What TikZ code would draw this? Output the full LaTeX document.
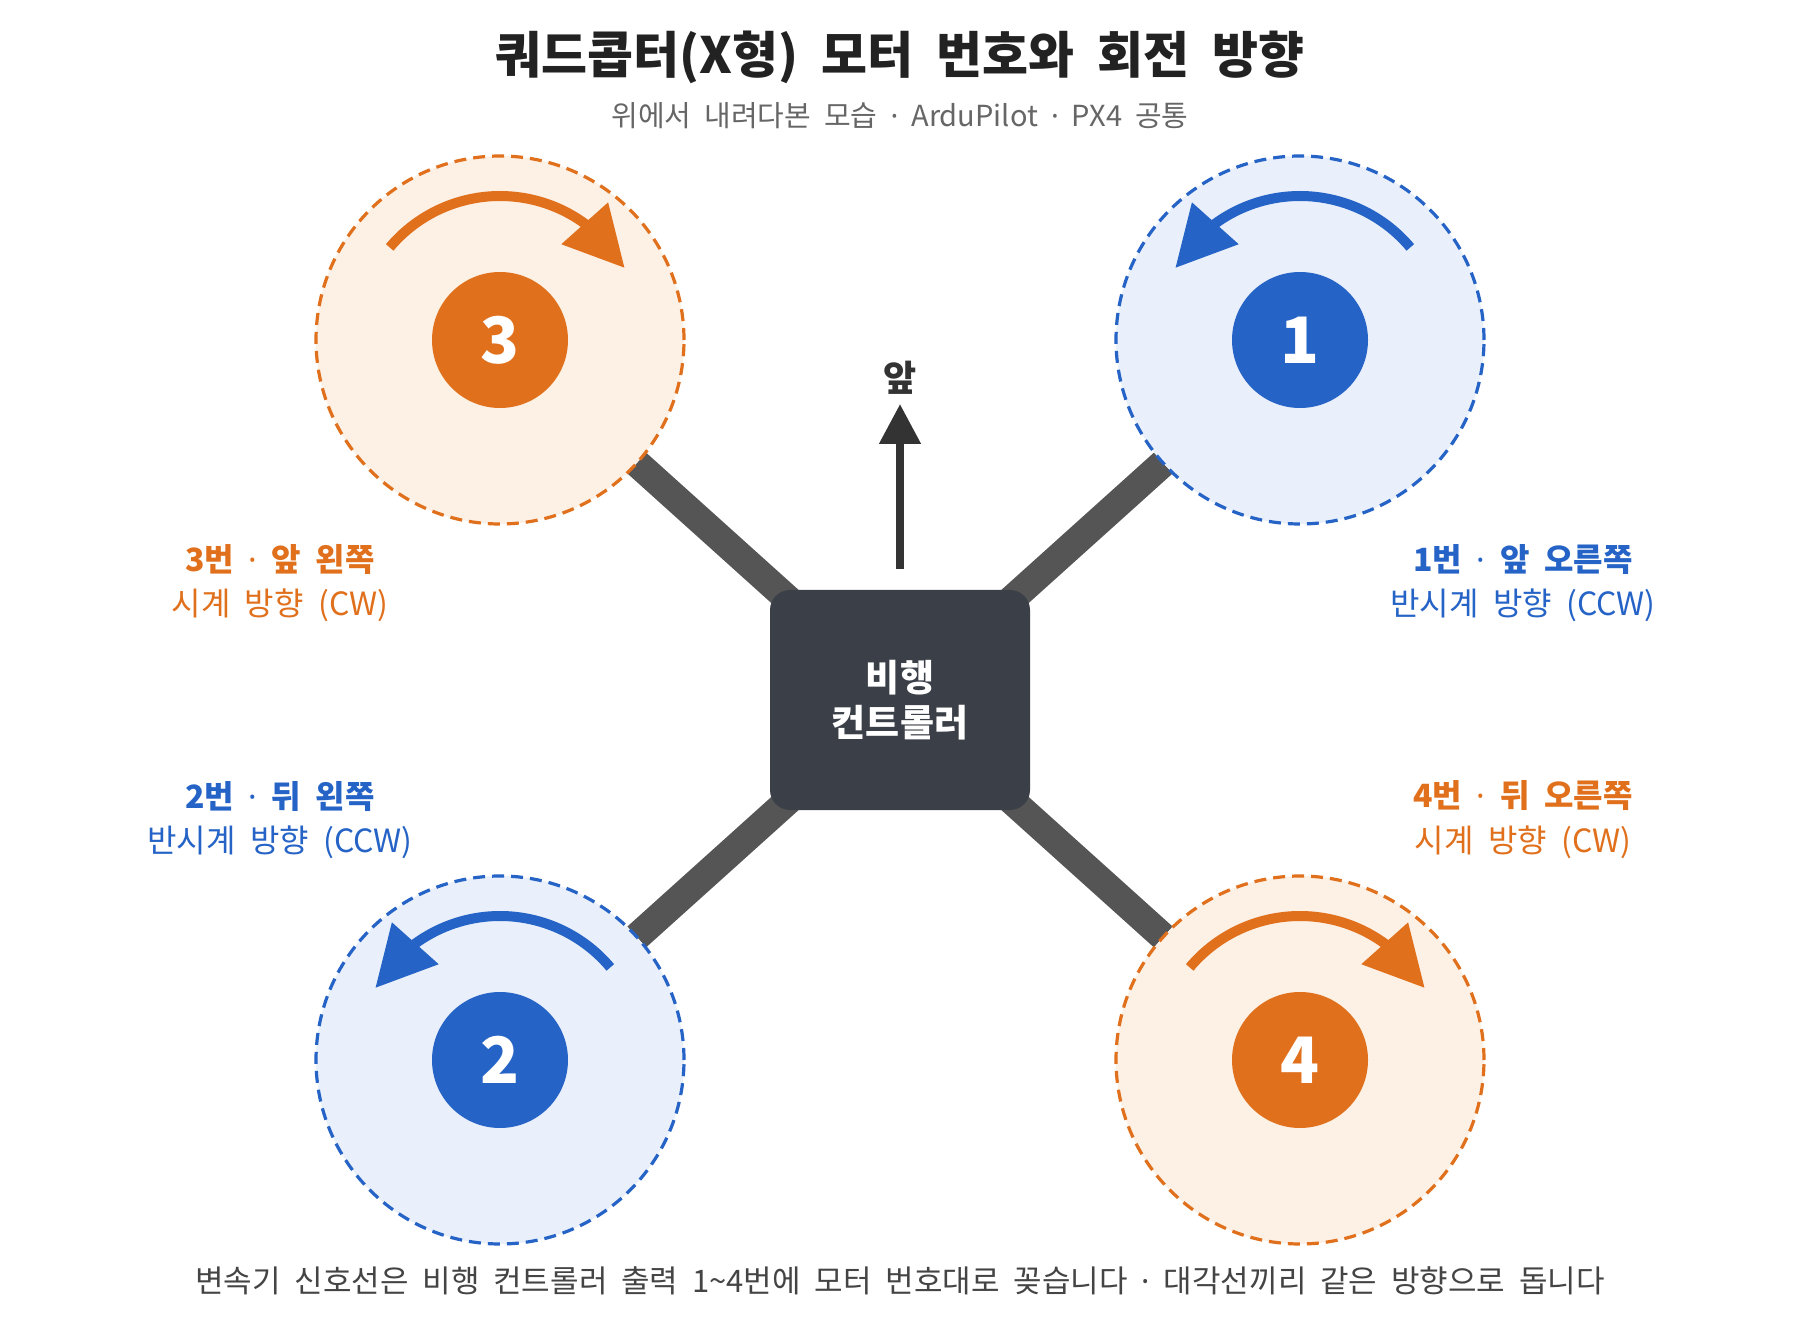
\documentclass[tikz,border=0pt]{standalone}
\usepackage{fontspec}
\setmainfont{Noto Sans CJK KR}[WordSpace=2]
\newfontfamily\dotfont{Noto Sans}
\newcommand\mdot{{\dotfont ·}}
\usetikzlibrary{arrows.meta,bending,calc}
\definecolor{orn}{HTML}{E0701C}
\definecolor{ornl}{HTML}{FDF0E5}
\definecolor{blu}{HTML}{2563C6}
\definecolor{blul}{HTML}{E9F0FB}
\definecolor{boxc}{HTML}{3B3F47}
\definecolor{armc}{HTML}{555555}
\definecolor{ink}{HTML}{333333}
\definecolor{ttl}{HTML}{222222}
\definecolor{subc}{HTML}{666666}
\definecolor{foot}{HTML}{444444}
\begin{document}
\begin{tikzpicture}[x=0.5pt,y=-0.5pt,
  rotor/.style={circle, minimum size=184pt, inner sep=0pt, draw=#1, fill=#1l, line width=1.6pt, dash pattern=on 6pt off 3.5pt},
  hub/.style={circle, minimum size=68pt, inner sep=0pt, fill=#1, text=white, font=\bfseries\fontsize{32}{36}\selectfont},
  spin/.style={draw=#1, line width=5pt, -{Triangle[length=30pt,width=30pt]}},
  arm/.style={draw=armc, line width=14pt},
  lab/.style={text=#1, font=\bfseries\fontsize{16}{19}\selectfont},
  sublab/.style={text=#1, font=\fontsize{16}{19}\selectfont}]
\useasboundingbox[fill=white] (0,0) rectangle (1800,1320);
\coordinate (ctr) at (900,700);
\coordinate (c1) at (1300,340);
\coordinate (c2) at (500,1060);
\coordinate (c3) at (500,340);
\coordinate (c4) at (1300,1060);
% arms
\foreach \c in {c1,c2,c3,c4}
  \draw[arm] (ctr) -- ($(\c)!92pt!(ctr)$);
% rotors
\node[rotor=blu] (r1) at (c1) {};
\node[rotor=blu] (r2) at (c2) {};
\node[rotor=orn] (r3) at (c3) {};
\node[rotor=orn] (r4) at (c4) {};
\node[hub=blu] (h1) at (c1) {1};
\node[hub=blu] (h2) at (c2) {2};
\node[hub=orn] (h3) at (c3) {3};
\node[hub=orn] (h4) at (c4) {4};
% spin arrows
\draw[spin=blu] ([shift={(320:144)}]c1) arc[start angle=320,end angle=210,radius=144];
\draw[spin=blu] ([shift={(320:144)}]c2) arc[start angle=320,end angle=210,radius=144];
\draw[spin=orn] ([shift={(220:144)}]c3) arc[start angle=220,end angle=330,radius=144];
\draw[spin=orn] ([shift={(220:144)}]c4) arc[start angle=220,end angle=330,radius=144];
% flight controller
\node[fill=boxc, rounded corners=10pt, minimum width=130pt, minimum height=110pt, text=white, font=\bfseries\fontsize{18.5}{22.5}\selectfont, align=center] (fc) at (ctr) {비행\\컨트롤러};
% front arrow
\coordinate (ftail) at (900,569);
\coordinate (fhead) at (900,404);
\draw[draw=ink, line width=4pt, -{Triangle[length=20pt,width=20pt]}] (ftail) -- (fhead);
\node[text=ink, font=\bfseries\fontsize{18}{20}\selectfont] (front) at (900,378) {앞};
% titles
\node[text=ttl, font=\bfseries\fontsize{25}{30}\selectfont] (title) at (900,57) {쿼드콥터(X형) 모터 번호와 회전 방향};
\node[text=subc, font=\fontsize{14.5}{17}\selectfont] (subtitle) at (900,116) {위에서 내려다본 모습 \mdot{} ArduPilot \mdot{} PX4 공통};
% labels
\node[lab=orn] (l3a) at (280,560) {3번 \mdot{} 앞 왼쪽};
\node[sublab=orn] (l3b) at (280,605) {시계 방향 (CW)};
\node[lab=blu] (l1a) at (1523,560) {1번 \mdot{} 앞 오른쪽};
\node[sublab=blu] (l1b) at (1523,605) {반시계 방향 (CCW)};
\node[lab=blu] (l2a) at (280,796) {2번 \mdot{} 뒤 왼쪽};
\node[sublab=blu] (l2b) at (280,842) {반시계 방향 (CCW)};
\node[lab=orn] (l4a) at (1523,796) {4번 \mdot{} 뒤 오른쪽};
\node[sublab=orn] (l4b) at (1523,842) {시계 방향 (CW)};
% footer
\node[text=foot, font=\fontsize{15.5}{18}\selectfont] (footer) at (900,1281) {변속기 신호선은 비행 컨트롤러 출력 1\textasciitilde 4번에 모터 번호대로 꽂습니다 \mdot{} 대각선끼리 같은 방향으로 돕니다};
\end{tikzpicture}
\end{document}
